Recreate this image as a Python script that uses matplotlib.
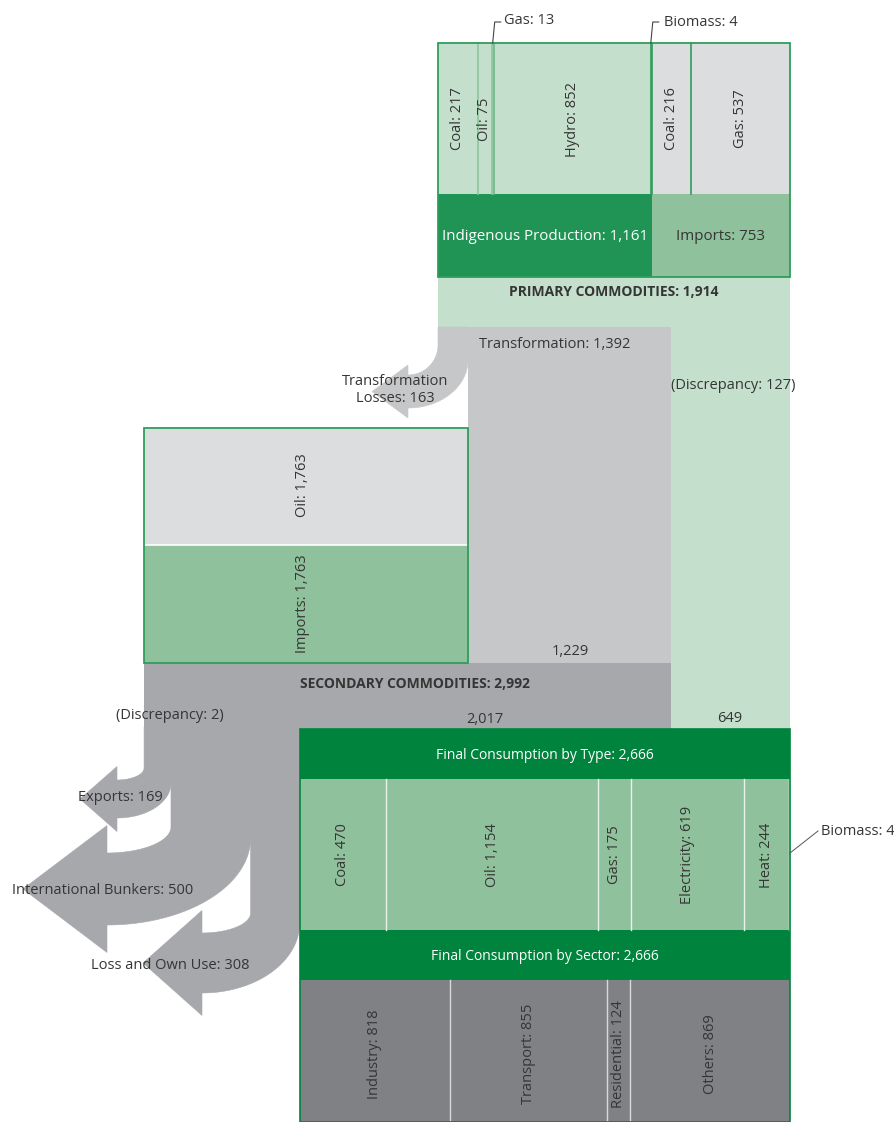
import numpy as np
import matplotlib
matplotlib.use("Agg")
import matplotlib.pyplot as plt
from matplotlib.patches import Rectangle, Polygon

# ---- data ----
primary_labels = ["Coal", "Oil", "Gas", "Hydro", "Biomass", "Coal", "Gas"]
primary_values = [217, 75, 13, 852, 4, 216, 537]
source_labels = ["Indigenous Production", "Imports"]
source_values = [1161, 753]
primary_total = 1914
transformation = 1392
transformation_losses = 163
transformation_out = 1229
primary_discrepancy = 127
primary_direct = 649
secondary_labels = ["Oil", "Imports"]
secondary_values = [1763, 1763]
secondary_total = 2992
secondary_to_final = 2017
out_labels = ["Discrepancy", "Exports", "International Bunkers", "Loss and Own Use"]
out_values = [2, 169, 500, 308]
final_total = 2666
type_labels = ["Coal", "Oil", "Gas", "Electricity", "Heat", "Biomass"]
type_values = [470, 1154, 175, 619, 244, 4]
sector_labels = ["Industry", "Transport", "Residential", "Others"]
sector_values = [818, 855, 124, 869]

# ---- colours ----
LIGHT_GREEN = "#c4dfcb"
DARK_GREEN = "#1f9455"
MID_GREEN = "#8fc19c"
HEAD_GREEN = "#00843d"
EDGE_GREEN = "#2e9e5b"
LIGHT_GRAY = "#dcdddf"
TRANS_GRAY = "#c6c7c9"
FLOW_GRAY = "#a7a8ac"
SECTOR_GRAY = "#808185"
TXT = "#353535"

plt.rcParams['font.family'] = ['Open Sans', 'DejaVu Sans']
FS = 10.5

fig = plt.figure(figsize=(8.95, 11.22), dpi=100)
ax = fig.add_axes([0, 0, 1, 1])
ax.set_xlim(0, 895)
ax.set_ylim(1122, 0)
ax.axis("off")

# ---- layout (pixel-like units) ----
X_RIGHT = 790
k = 352 / primary_total          # width per unit
Y_TOP, Y_SPLIT, Y_PRIM, Y_TRANS = 43, 194, 277, 327
Y_SECBOX, Y_SECMID, Y_SECBAND = 428, 545, 663
Y_FINAL, Y_TYPE, Y_SECTHDR, Y_SECT, Y_BOT = 729, 779, 930, 980, 1122

x_prim = X_RIGHT - primary_total * k
x_disc = X_RIGHT - primary_direct * k
x_loss_r = x_prim + transformation_losses * k
x_sec = x_loss_r - secondary_values[0] * k
x_fin = X_RIGHT - final_total * k


def rect(x, y, w, h, fc, ec="none", lw=0, z=1):
    ax.add_patch(Rectangle((x, y), w, h, facecolor=fc, edgecolor=ec, linewidth=lw, zorder=z))


def label(x, y, s, rot=0, color=TXT, size=FS, weight="normal", ha="center"):
    return ax.text(x, y, s, rotation=rot, color=color, fontsize=size, fontweight=weight,
                   ha=ha, va="center", zorder=10)


def bent_arrow(xl, xr, y_top, y_in, ry_i, y_out, ry_o, xb, head_half, tip_len, fc=FLOW_GRAY):
    t = np.linspace(0, np.pi / 2, 40)
    outer = [(xb + (xr - xb) * np.cos(a), y_out + ry_o * np.sin(a)) for a in t]
    arm_mid = (y_in + ry_i + y_out + ry_o) / 2
    head = [(xb, arm_mid + head_half), (xb - tip_len, arm_mid), (xb, arm_mid - head_half)]
    inner = [(xb + (xl - xb) * np.cos(a), y_in + ry_i * np.sin(a)) for a in t[::-1]]
    pts = [(xl, y_top), (xr, y_top)] + outer + head + inner
    ax.add_patch(Polygon(pts, closed=True, facecolor=fc, edgecolor=fc, linewidth=0.4, zorder=2))


# ---- primary commodities ----
x = x_prim
dividers = []
for i, (lab, v) in enumerate(zip(primary_labels, primary_values)):
    w = v * k
    fc = LIGHT_GREEN if i < 5 else LIGHT_GRAY
    rect(x, Y_TOP, w, Y_SPLIT - Y_TOP, fc)
    if lab != "Biomass" and not (lab == "Gas" and v == 13):
        label(x + w / 2, 119, f"{lab}: {v:,}", rot=90)
    x += w
    dividers.append(x)
div_colors = ["#8cc49c", "#8cc49c", "#6db787", EDGE_GREEN, EDGE_GREEN, EDGE_GREEN]
for xd, c in zip(dividers[:-1], div_colors):
    ax.plot([xd, xd], [Y_TOP, Y_SPLIT], color=c, lw=1.2, zorder=3)

x = x_prim
for lab, v, fc, tc in zip(source_labels, source_values, [DARK_GREEN, MID_GREEN], ["white", TXT]):
    rect(x, Y_SPLIT, v * k, Y_PRIM - Y_SPLIT, fc)
    label(x + v * k / 2, 236, f"{lab}: {v:,}", color=tc, size=10.9)
    x += v * k
rect(x_prim, Y_TOP, primary_total * k, Y_PRIM - Y_TOP, "none", EDGE_GREEN, 1.3, z=4)

rect(x_prim, Y_PRIM, primary_total * k, Y_TRANS - Y_PRIM, LIGHT_GREEN)
label(x_prim + primary_total * k / 2, 292, f"PRIMARY COMMODITIES: {primary_total:,}", weight="bold", size=10)

# leader lines for tiny values
xg = x_prim + sum(primary_values[:2]) * k + 1
ax.plot([xg, xg + 2, xg + 8], [Y_TOP, 22, 22], color="#444444", lw=0.8, zorder=5)
label(xg + 11, 20, f"Gas: {primary_values[2]}", ha="left")
xb4 = x_prim + sum(primary_values[:4]) * k
ax.plot([xb4, xb4 + 2, xb4 + 8], [Y_TOP, 22, 22], color="#444444", lw=0.8, zorder=5)
label(xb4 + 13, 22, f"Biomass: {primary_values[4]}", ha="left")

# discrepancy column and transformation
rect(x_disc, Y_TRANS - 1, X_RIGHT - x_disc, Y_FINAL - Y_TRANS + 1, LIGHT_GREEN)
label((x_disc + X_RIGHT) / 2 + 3, 385, f"(Discrepancy: {primary_discrepancy})")
label(730, 718, f"{primary_direct:,}")
rect(x_loss_r, Y_TRANS, x_disc - x_loss_r, Y_SECBAND - Y_TRANS, TRANS_GRAY)
label(555, 344, f"Transformation: {transformation:,}")
label(570, 651, f"{transformation_out:,}")

# transformation losses arrow
bent_arrow(x_prim, x_loss_r, Y_TRANS, 345, 30, 360, 48, 408, 26.5, 36, fc=TRANS_GRAY)
t_lbl = label(395, 390, f"Transformation\nLosses: {transformation_losses}")
t_lbl.set_linespacing(1.2)

# ---- secondary commodities ----
rect(x_sec, Y_SECBOX, x_loss_r - x_sec, Y_SECMID - Y_SECBOX, LIGHT_GRAY)
rect(x_sec, Y_SECMID, x_loss_r - x_sec, Y_SECBAND - Y_SECMID, MID_GREEN)
ax.plot([x_sec, x_loss_r], [Y_SECMID, Y_SECMID], color="white", lw=1.2, zorder=3)
rect(x_sec, Y_SECBOX, x_loss_r - x_sec, Y_SECBAND - Y_SECBOX, "none", EDGE_GREEN, 1.3, z=4)
x_mid_sec = (x_sec + x_loss_r) / 2 - 3
label(x_mid_sec, 485, f"{secondary_labels[0]}: {secondary_values[0]:,}", rot=90)
label(x_mid_sec, 604, f"{secondary_labels[1]}: {secondary_values[1]:,}", rot=90)

rect(x_sec, Y_SECBAND, x_disc - x_sec, Y_FINAL - Y_SECBAND, FLOW_GRAY)
label(415, 684, f"SECONDARY COMMODITIES: {secondary_total:,}", weight="bold", size=10)
label(485, 719, f"{secondary_to_final:,}")

# outflow arrows from secondary commodities
gap_k = (x_fin - x_sec) / sum(out_values)
geom = [  # y_in, ry_i, y_out, ry_o, xb, head_half, tip_len
    None,
    (768, 12, 783, 35, 117, 32.5, 37),
    (827, 26, 838, 87, 107, 63.5, 84),
    (913, 20, 923, 70, 202, 52.5, 59),
]
text_pos = [(170, 715), (120, 797), (103, 890), (170, 965)]
xl = x_sec
prev = None
for lab, v, g, (tx, ty) in zip(out_labels, out_values, geom, text_pos):
    xr = xl + v * gap_k
    if g is not None:
        bent_arrow(xl, xr, Y_FINAL - 2, *g)
        label(tx, ty, f"{lab}: {v:,}")
        if prev is not None:
            # hide the seam between neighbouring shafts until they part
            rect(xl - 1.2, Y_FINAL - 2, 2.4, min(prev[2], g[0]) - Y_FINAL + 2, FLOW_GRAY, z=2)
        prev = g
    else:
        label(tx, ty, f"({lab}: {v})")
    xl = xr

# ---- final consumption by type ----
rect(x_fin, Y_FINAL, final_total * k, Y_TYPE - Y_FINAL, HEAD_GREEN)
label(x_fin + final_total * k / 2, 755, f"Final Consumption by Type: {final_total:,}", color="white", size=10)
x = x_fin
for lab, v in zip(type_labels, type_values):
    w = v * k
    rect(x, Y_TYPE, w, Y_SECTHDR - Y_TYPE, MID_GREEN)
    if lab != "Biomass":
        label(x + w / 2, 855, f"{lab}: {v:,}", rot=90)
        ax.plot([x + w, x + w], [Y_TYPE, Y_SECTHDR], color="#e8f2eb", lw=1, zorder=3)
    x += w
ax.plot([X_RIGHT, 818], [853, 831], color="#555555", lw=0.7, zorder=5)
label(821, 831, f"Biomass: {type_values[-1]}", ha="left")

# ---- final consumption by sector ----
rect(x_fin, Y_SECTHDR, final_total * k, Y_SECT - Y_SECTHDR, HEAD_GREEN)
label(x_fin + final_total * k / 2, 956, f"Final Consumption by Sector: {final_total:,}", color="white", size=10)
x = x_fin
for i, (lab, v) in enumerate(zip(sector_labels, sector_values)):
    w = v * k
    rect(x, Y_SECT, w, Y_BOT - Y_SECT, SECTOR_GRAY)
    label(x + w / 2, 1054, f"{lab}: {v:,}", rot=90)
    if i < len(sector_values) - 1:
        ax.plot([x + w, x + w], [Y_SECT, Y_BOT], color="#d8d9db", lw=1, zorder=3)
    x += w
rect(x_fin, Y_FINAL, final_total * k, Y_BOT - Y_FINAL, "none", HEAD_GREEN, 1.2, z=4)

fig.savefig("out.png", dpi=100)
